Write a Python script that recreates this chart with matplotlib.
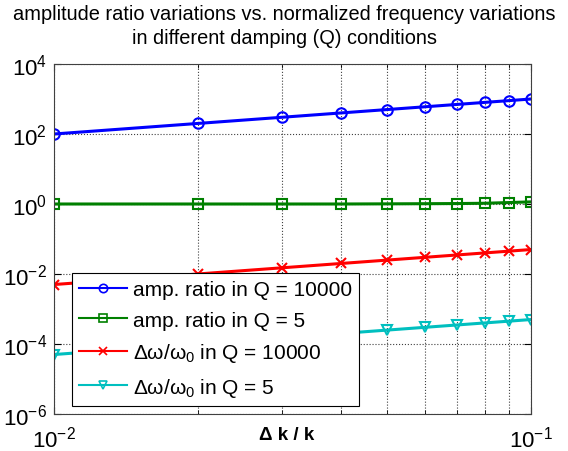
import matplotlib.pyplot as plt
from matplotlib.lines import Line2D
from matplotlib.ticker import FixedLocator, NullLocator, NullFormatter

plt.rcParams['font.family'] = ['Liberation Sans', 'DejaVu Sans']
plt.rcParams['mathtext.fontset'] = 'custom'
plt.rcParams['mathtext.rm'] = 'Liberation Sans'
plt.rcParams['mathtext.it'] = 'Liberation Sans'

# normalized stiffness variation
dk = [0.01, 0.02, 0.03, 0.04, 0.05, 0.06, 0.07, 0.08, 0.09, 0.1]

amp_q10000 = [100, 200, 300, 400, 500, 600, 700, 800, 900, 1000]
amp_q5 = [1.0, 1.0, 1.0, 1.0, 1.01, 1.02, 1.03, 1.05, 1.1, 1.15]
dw_q10000 = [0.005, 0.01, 0.015, 0.02, 0.025, 0.03, 0.035, 0.04, 0.045, 0.05]
dw_q5 = [5e-5, 1e-4, 1.5e-4, 2e-4, 2.5e-4, 3e-4, 3.5e-4, 4e-4, 4.5e-4, 5e-4]

labels = ['amp. ratio in Q = 10000', 'amp. ratio in Q = 5',
          r'$\Delta\omega/\omega_0$ in Q = 10000', r'$\Delta\omega/\omega_0$ in Q = 5']
colors = ['#0000ff', '#008000', '#ff0000', '#00bfbf']
markers = ['o', 's', 'x', 'v']
series = [amp_q10000, amp_q5, dw_q10000, dw_q5]

fig = plt.figure(figsize=(5.68, 4.52), dpi=100)
ax = fig.add_axes([54 / 568, 1 - 415 / 452, 477 / 568, 350 / 452])

for vals, c, m in zip(series, colors, markers):
    ax.plot(dk, vals, color=c, marker=m, lw=2.2, ms=7.5, mfc='none', mew=1.5)

ax.set_xscale('log')
ax.set_yscale('log')
ax.set_xlim(0.01, 0.1)
ax.set_ylim(1e-6, 1e4)

ax.yaxis.set_major_locator(FixedLocator([1e-6, 1e-4, 1e-2, 1e0, 1e2, 1e4]))
ax.yaxis.set_minor_locator(NullLocator())
ax.set_yticklabels([r'$10^{-6}$', r'$10^{-4}$', r'$10^{-2}$', r'$10^{0}$',
                    r'$10^{2}$', r'$10^{4}$'])
ax.xaxis.set_major_locator(FixedLocator([0.01, 0.1]))
ax.xaxis.set_minor_locator(FixedLocator([0.02, 0.03, 0.04, 0.05, 0.06, 0.07, 0.08, 0.09]))
ax.xaxis.set_minor_formatter(NullFormatter())
ax.set_xticklabels([r'$10^{-2}$', r'$10^{-1}$'])

ax.tick_params(which='both', direction='in', top=True, right=True,
               labelsize=16, length=5, pad=5)
ax.tick_params(axis='x', pad=8)
ax.tick_params(which='minor', length=3)
ax.grid(True, which='major', axis='y', ls=':', color='#404040', lw=0.8)
ax.grid(True, which='both', axis='x', ls=':', color='#404040', lw=0.8)
for s in ax.spines.values():
    s.set_color('#404040')

ax.set_xlabel('Δ k / k', fontsize=13.5, fontweight='bold')
ax.xaxis.set_label_coords(0.488, -0.035)
fig.suptitle('amplitude ratio variations vs. normalized frequency variations\n'
             'in different damping (Q) conditions', fontsize=14.4,
             x=0.5, y=1 - 5 / 452, va='top', linespacing=1.3)

handles = [Line2D([], [], color=c, marker=m, lw=1.5, ms=6, mfc='none', mew=1.2)
           for c, m in zip(colors, markers)]
leg = ax.legend(handles, labels, loc='lower left',
                bbox_to_anchor=(0.0377, 0.023, 0.602, 0.377), mode='expand',
                fontsize=15, fancybox=False, edgecolor='black', framealpha=1,
                handlelength=2.3, handletextpad=0.3, borderpad=0.35,
                labelspacing=0.55, borderaxespad=0)
leg.get_frame().set_linewidth(0.8)

fig.savefig('out.png', dpi=100)
